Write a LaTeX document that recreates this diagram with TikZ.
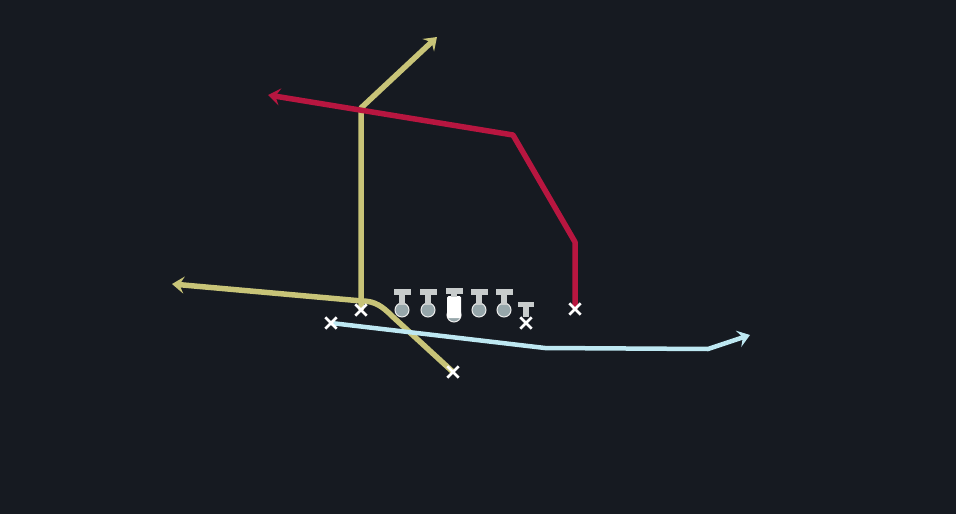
\documentclass[tikz,border=0pt]{standalone}
\usetikzlibrary{arrows.meta,shapes.misc}
\pgfdeclarelayer{bg}
\pgfsetlayers{bg,main}
\definecolor{bgc}{RGB}{22,26,33}
\definecolor{yel}{RGB}{200,196,120}
\definecolor{redr}{RGB}{184,22,64}
\definecolor{blu}{RGB}{190,232,242}
\definecolor{tgray}{RGB}{200,204,204}
\definecolor{cgray}{RGB}{150,166,170}
\tikzset{
  x=1pt,y=-1pt,
  xmark/.style={cross out,draw=white,line width=2.8pt,minimum size=8.5pt,inner sep=0pt},
  route/.style={line width=5.5pt,line join=round,-{Stealth[length=12pt,width=17pt,inset=4.5pt]}},
  body/.style={circle,fill=cgray,draw=white!85!gray,line width=1pt,minimum size=14pt,inner sep=0pt},
}
\begin{document}
\begin{tikzpicture}
\begin{pgfonlayer}{bg}
\fill[bgc] (0,0) rectangle (956,514);
\end{pgfonlayer}
\useasboundingbox (0,0) rectangle (956,514);
% players
\node[xmark] (wr) at (361,310) {};
\node[xmark] (te) at (575,309) {};
\node[xmark] (rb) at (453,372) {};
\node[xmark] (sl) at (331,323) {};
% linemen
\foreach \n/\x in {l1/402,l2/428,l4/479,l5/504}{
  \node[body] (\n) at (\x,310) {};
  \fill[tgray] (\x-8.5,289) rectangle (\x+8.5,295);
  \fill[tgray] (\x-3.2,295) rectangle (\x+3.2,305);
}
% center
\node[body] (c) at (454,315) {};
\fill[white] (447,296) [rounded corners=1.5pt] rectangle (461,318);
\fill[tgray] (445.5,288) rectangle (462.5,294);
\fill[tgray] (451,294) rectangle (457,297);
% end
\fill[tgray] (518,302) rectangle (534,307);
\fill[tgray] (523,307) rectangle (529,317);
\node[xmark] (en) at (526,323) {};
% routes
\coordinate (a1) at (437,37);
\coordinate (a2) at (268,95);
\coordinate (a3) at (172,284);
\coordinate (a4) at (750,335);
\begin{pgfonlayer}{bg}
\draw[route,yel] (wr.center) -- (361,108) -- (a1);
\draw[route,redr] (te.center) -- (575,242) -- (513,135) -- (a2);
\draw[route,yel] (rb.center) -- (392,316) to[out=135,in=0] (362,301) -- (a3);
\draw[route,blu,line width=4.5pt] (sl.center) -- (545,348) -- (708,349) -- (a4);
\end{pgfonlayer}
\end{tikzpicture}
\end{document}
